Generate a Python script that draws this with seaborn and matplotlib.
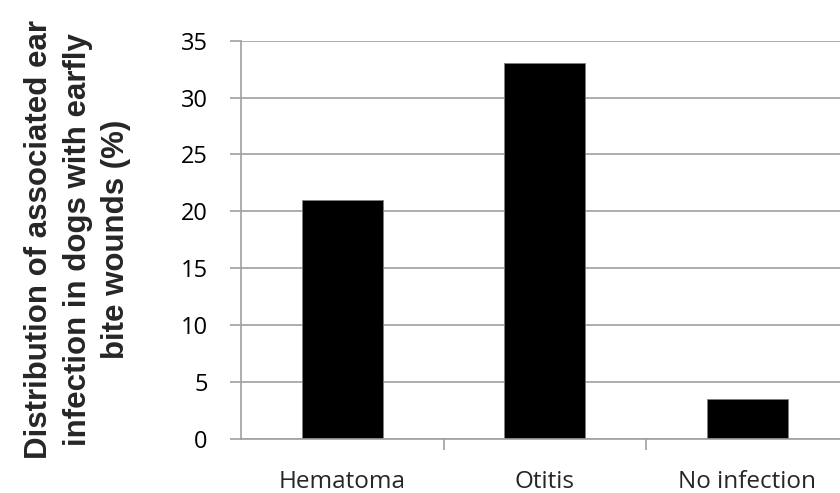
import matplotlib
matplotlib.use("Agg")
import matplotlib.pyplot as plt
import seaborn as sns

# Data
categories = ["Hematoma", "Otitis", "No infection"]
percent = [21, 33, 3.5]
y_ticks = [0, 5, 10, 15, 20, 25, 30, 35]

sns.set_style("white")

fig = plt.figure(figsize=(8.4, 4.93), dpi=100)
ax = fig.add_axes([0.287, 0.1095, 0.713, 0.808])

sns.barplot(x=categories, y=percent, color="black", width=0.4,
            edgecolor="#7f7f7f", linewidth=0.6, saturation=1, ax=ax)

ax.set_ylim(0, 35)
ax.set_xlim(-0.5, 2.458)
ax.set_yticks(y_ticks)
ax.yaxis.grid(True, color="#a0a0a0", linewidth=1.2)
ax.set_axisbelow(True)

for side in ["top", "right"]:
    ax.spines[side].set_visible(False)
for side in ["left", "bottom"]:
    ax.spines[side].set_color("#a0a0a0")
    ax.spines[side].set_linewidth(1.2)

# ticks: y ticks outward, x ticks between categories
ax.tick_params(axis="y", direction="out", length=8, width=1.2, color="#a0a0a0",
               pad=16, left=True, labelsize=17, labelcolor="black")
ax.set_xticks([0.5, 1.5], minor=True)
ax.tick_params(axis="x", which="minor", direction="out", length=8, width=1.2,
               color="#a0a0a0", bottom=True)
ax.tick_params(axis="x", which="major", length=0, pad=22, labelsize=17.5)
for lab in ax.get_xticklabels() + ax.get_yticklabels():
    lab.set_family(["Open Sans", "DejaVu Sans"])

ax.set_xlabel("")
ax.set_ylabel("Distribution of associated ear\ninfection in dogs with earfly\nbite wounds (%)",
              fontsize=22.5, fontweight="bold", family=["Liberation Sans", "DejaVu Sans"],
              linespacing=1.38)
ax.yaxis.set_label_coords(-0.183, 0.5)

fig.savefig("out.png", dpi=100)
